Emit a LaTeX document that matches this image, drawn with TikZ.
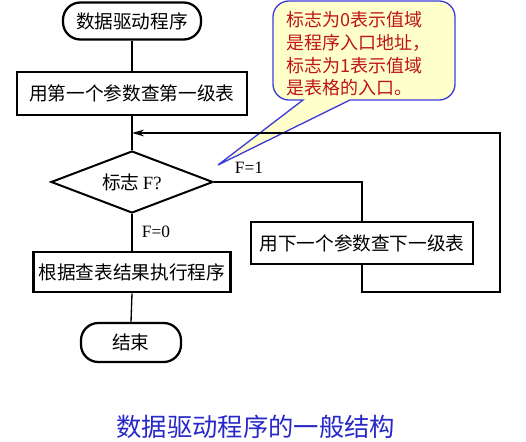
\documentclass[tikz,border=0pt]{standalone}
\usepackage{fontspec}
\setmainfont{Liberation Serif}
\newfontfamily\cjk{Noto Sans CJK SC}
\usetikzlibrary{shapes.geometric,arrows.meta}
\definecolor{notefill}{RGB}{255,255,204}
\definecolor{noteline}{RGB}{60,60,220}
\definecolor{notetext}{RGB}{190,20,20}
\definecolor{captionblue}{RGB}{40,40,200}
\tikzset{
  cjkfont/.style={font=\cjk\fontsize{14}{16}\selectfont},
  terminal/.style={draw, line width=1.7pt, rounded corners=13pt, inner sep=0pt, cjkfont},
  procbox/.style={draw, line width=2pt, inner sep=0pt, cjkfont},
  decision/.style={draw, diamond, aspect=2.6, line width=1.5pt, inner sep=0pt,
    minimum width=121.5pt, minimum height=46.5pt},
  conn/.style={line width=1pt},
  flowarrow/.style={conn, -{Stealth[length=9pt,width=5pt]}},
  cond/.style={font=\fontsize{13}{15}\selectfont, inner sep=0pt},
}
\begin{document}
\begin{tikzpicture}[x=0.75pt,y=-0.75pt]
\useasboundingbox (0,0) rectangle (526,442);

% callout
\draw[noteline, fill=notefill, line width=1pt]
  (303,100) [rounded corners=12pt] -- (273,100) -- (273,1) -- (455,1) -- (455,100)
  [sharp corners] -- (350,100) -- (218,165) -- cycle;
\node[anchor=west, align=left, text=notetext, inner sep=0pt,
      font=\cjk\fontsize{13.5}{17}\selectfont] (note) at (286,54)
  {标志为0表示值域\\是程序入口地址，\\标志为1表示值域\\是表格的入口。};

% nodes
\node[terminal, minimum width=103.5pt, minimum height=27.75pt] (start) at (132,21) {数据驱动程序};
\node[procbox, minimum width=172.5pt, minimum height=32.25pt] (box1) at (132,93.5) {用第一个参数查第一级表};
\node[decision] (dia) at (132,182) {{\cjk\fontsize{14}{16}\selectfont 标志} \fontsize{14}{16}\selectfont F?};
\node[procbox, minimum width=166.5pt, minimum height=31.5pt] (box2) at (362,243) {用下一个参数查下一级表};
\node[procbox, minimum width=147.75pt, minimum height=30pt] (box3) at (132,272) {根据查表结果执行程序};
\node[terminal, minimum width=75pt, minimum height=29.25pt] (end) at (131,342.5) {结束};

\node[cond] (f1) at (249,168) {F=1};
\node[cond] (f0) at (156,232) {F=0};

\node[text=captionblue, font=\cjk\fontsize{19}{22}\selectfont] (cap) at (256,427) {数据驱动程序的一般结构};

% connectors
\coordinate (join) at (132,133);
\coordinate (loopBR) at (500,292);
\coordinate (loopTR) at (500,133);
\draw[conn] (start.south) -- (box1.south |- start.south) -- (box1.north);
\draw[conn] (box1.south) -- (dia.north);
\draw[conn] (dia.east) -| (box2.north);
\draw[conn] (dia.south) -- (box3.north);
\draw[conn] (box3.south) -- (end.north);
\draw[flowarrow] (box2.south) |- (loopBR) -- (loopTR) -- (join);
\end{tikzpicture}
\end{document}
